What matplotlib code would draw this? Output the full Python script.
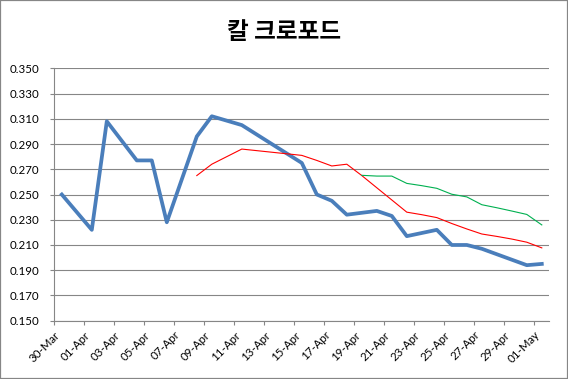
import matplotlib
matplotlib.use("Agg")
import matplotlib.pyplot as plt
import matplotlib.dates as mdates
from matplotlib.patches import Rectangle
import pandas as pd

YEAR = 2012
title = "칼 크로포드"

blue_dates = ["03-30", "04-01", "04-02", "04-04", "04-05", "04-06", "04-08", "04-09",
              "04-11", "04-15", "04-16", "04-17", "04-18", "04-20", "04-21", "04-22",
              "04-24", "04-25", "04-26", "04-27", "04-30", "05-01"]
blue_values = [0.250, 0.222, 0.308, 0.277, 0.277, 0.228, 0.296, 0.312,
               0.305, 0.275, 0.250, 0.245, 0.234, 0.237, 0.233, 0.217,
               0.222, 0.210, 0.210, 0.207, 0.194, 0.195]

red_dates = ["04-08", "04-09", "04-11", "04-15", "04-16", "04-17", "04-18", "04-19",
             "04-22", "04-23", "04-24", "04-25", "04-26", "04-27", "04-28", "04-29",
             "04-30", "05-01"]
red_values = [0.265, 0.274, 0.286, 0.281, 0.277, 0.2726, 0.274, 0.265,
              0.236, 0.234, 0.2317, 0.227, 0.2227, 0.2187, 0.2168, 0.2147,
              0.2122, 0.2077]

green_dates = ["04-19", "04-20", "04-21", "04-22", "04-23", "04-24", "04-25", "04-26",
               "04-27", "04-28", "04-29", "04-30", "05-01"]
green_values = [0.2652, 0.2646, 0.2646, 0.2588, 0.2570, 0.2549, 0.2502, 0.2481,
                0.2419, 0.2395, 0.2369, 0.2342, 0.2259]

y_ticks = [0.150, 0.170, 0.190, 0.210, 0.230, 0.250, 0.270, 0.290, 0.310, 0.330, 0.350]


def to_dt(lst):
    # points sit in the middle of each day slot (Excel date axis, between tick marks)
    return pd.to_datetime([f"{YEAR}-{d}" for d in lst]) + pd.Timedelta(hours=12)


start = pd.Timestamp(f"{YEAR}-03-30")
end = pd.Timestamp(f"{YEAR}-05-02")
x_ticks = pd.date_range(start, pd.Timestamp(f"{YEAR}-05-01"), freq="2D")

fig = plt.figure(figsize=(5.68, 3.79), dpi=100)
ax = fig.add_axes([54.3 / 568, 1 - 320.7 / 379, (549.3 - 54.3) / 568, (320.7 - 68.3) / 379])

grid_c = "#868686"
ax.plot(to_dt(blue_dates), blue_values, color="#4A7EBB", lw=2.7, solid_joinstyle="round", zorder=3)
ax.plot(to_dt(red_dates), red_values, color="#FF0000", lw=0.8, zorder=4)
ax.plot(to_dt(green_dates), green_values, color="#00B050", lw=0.8, zorder=4)

ax.set_xlim(start, end)
ax.set_ylim(0.150, 0.350)
ax.set_yticks(y_ticks)
ax.set_yticklabels([f"{v:.3f}" for v in y_ticks])
ax.set_xticks(x_ticks)
ax.xaxis.set_major_formatter(mdates.DateFormatter("%d-%b"))
ax.grid(axis="y", color=grid_c, lw=0.8)
ax.set_axisbelow(True)
for s in ["top", "right"]:
    ax.spines[s].set_visible(False)
for s in ["left", "bottom"]:
    ax.spines[s].set_color(grid_c)
    ax.spines[s].set_linewidth(0.8)
ax.tick_params(axis="both", direction="out", length=3.2, width=0.8, color=grid_c,
               labelsize=8.3, labelcolor="black")
ax.tick_params(axis="y", pad=7.6)
ax.tick_params(axis="x", pad=3)
for lab in ax.get_xticklabels():
    lab.set_rotation(45)
    lab.set_ha("right")
    lab.set_rotation_mode("anchor")
    lab.set_fontfamily("Lato")
for lab in ax.get_yticklabels():
    lab.set_fontfamily("Lato")

fig.text(0.5, 1 - 32 / 379, title, ha="center", va="center", fontsize=17,
         fontweight="bold", family=["Noto Sans CJK KR", "DejaVu Sans"])

fig.patches.append(Rectangle((0, 0), 1, 1, transform=fig.transFigure, fill=False,
                             edgecolor=grid_c, lw=1.6))

fig.savefig("out.png", dpi=100)
